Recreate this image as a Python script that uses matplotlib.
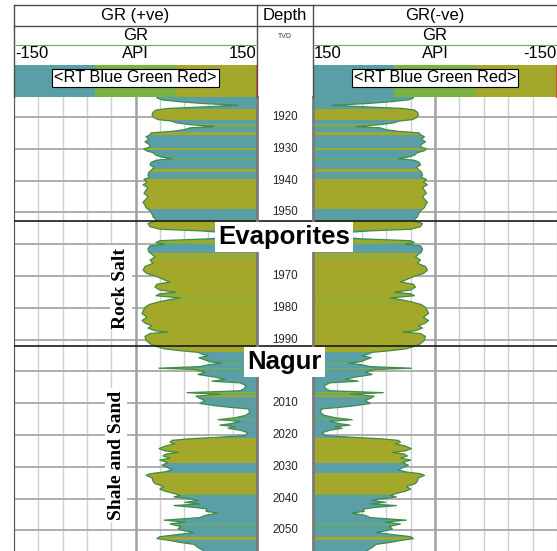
import numpy as np
import matplotlib.pyplot as plt
from matplotlib.transforms import blended_transform_factory

# ---------------- data ----------------
depth = [1913.7, 1914.0, 1914.6, 1915.2, 1915.8, 1916.3, 1916.8, 1917.3, 1917.8, 1918.5,
         1919.3, 1920.2, 1920.8, 1921.3, 1921.8, 1922.4, 1923.0, 1923.4, 1924.0, 1924.5,
         1925.0, 1925.6, 1926.2, 1927.0, 1927.8, 1928.6, 1929.4, 1930.0, 1930.6, 1931.2,
         1932.0, 1932.6, 1933.1, 1933.6, 1934.3, 1935.1, 1935.8, 1936.5, 1937.3, 1938.2,
         1939.0, 1939.6, 1940.5, 1941.3, 1942.2, 1943.0, 1944.0, 1945.0, 1945.8, 1946.8,
         1947.7, 1948.5, 1949.5, 1950.5, 1951.4, 1952.2, 1952.8, 1953.5, 1954.5, 1955.3,
         1955.8, 1956.5, 1957.5, 1958.3, 1958.9, 1959.5, 1960.0, 1960.5, 1961.5, 1962.5,
         1963.2, 1964.0, 1965.0, 1966.0, 1967.0, 1968.2, 1969.2, 1970.2, 1971.3, 1971.9,
         1972.6, 1973.5, 1974.4, 1975.1, 1975.6, 1976.2, 1976.9, 1977.4, 1978.2, 1979.0,
         1979.9, 1981.0, 1981.8, 1983.0, 1984.0, 1985.0, 1985.6, 1986.4, 1987.2, 1987.6,
         1988.1, 1989.0, 1990.2, 1991.3, 1992.0, 1992.9, 1993.5, 1994.0, 1994.6, 1995.1,
         1995.7, 1996.4, 1997.0, 1997.4, 1997.9, 1998.5, 1999.0, 1999.4, 2000.2, 2001.0,
         2001.8, 2002.5, 2003.1, 2003.6, 2004.5, 2005.5, 2006.1, 2006.7, 2007.2, 2007.8,
         2008.5, 2009.2, 2010.1, 2010.8, 2011.3, 2011.8, 2012.8, 2013.8, 2014.6, 2015.2,
         2015.7, 2016.4, 2016.9, 2017.4, 2017.9, 2018.5, 2019.3, 2020.2, 2020.7, 2021.2,
         2021.7, 2022.3, 2022.8, 2023.4, 2024.3, 2025.0, 2025.5, 2026.0, 2026.6, 2027.3,
         2027.9, 2028.7, 2029.5, 2030.3, 2031.0, 2031.6, 2032.2, 2032.7, 2033.5, 2034.5,
         2035.3, 2036.2, 2037.0, 2037.7, 2038.4, 2039.0, 2039.5, 2040.1, 2040.6, 2041.2,
         2041.7, 2042.2, 2042.8, 2043.3, 2044.0, 2044.6, 2045.3, 2046.0, 2046.8, 2047.4,
         2048.0, 2048.8, 2049.5, 2050.1, 2050.7, 2051.4, 2052.0, 2052.6, 2053.2, 2053.8,
         2054.4, 2055.4, 2056.5]
gr = [26.5, 26.5, 32.7, 55.0, 85.8, 126.5, 85.8, 40.0, 25.3, 21.6,
      20.4, 22.8, 27.8, 45.0, 50.0, 67.3, 96.9, 67.3, 59.9, 45.0,
      19.1, 17.9, 13.0, 16.7, 11.7, 16.7, 17.9, 10.5, 13.0, 21.6,
      25.3, 32.7, 45.0, 25.3, 19.1, 17.9, 22.8, 20.4, 16.7, 15.4,
      16.7, 10.5, 14.2, 9.3, 15.4, 13.0, 10.5, 15.4, 13.0, 9.3,
      11.7, 13.0, 17.9, 20.4, 21.6, 25.3, 24.0, 15.4, 17.9, 30.0,
      79.6, 119.0, 122.8, 92.0, 30.0, 25.3, 36.4, 17.9, 15.4, 16.7,
      20.4, 24.0, 17.9, 21.6, 11.7, 9.3, 14.2, 26.5, 36.4, 42.6,
      26.5, 24.0, 30.0, 50.0, 30.0, 25.3, 55.0, 42.6, 27.8, 16.7,
      11.7, 9.3, 8.0, 14.2, 8.0, 13.0, 20.4, 15.4, 24.0, 40.0,
      17.9, 11.7, 13.0, 17.9, 24.0, 35.2, 55.0, 77.2, 82.1, 89.5,
      78.4, 85.8, 92.0, 106.8, 90.7, 79.6, 29.0, 73.5, 85.8, 77.2,
      98.1, 110.5, 94.4, 129.0, 136.4, 134.0, 129.0, 63.6, 104.3, 74.7,
      79.6, 85.8, 79.6, 98.1, 116.7, 138.9, 141.4, 136.4, 122.8, 101.9,
      129.0, 119.0, 104.3, 122.8, 114.2, 129.0, 138.9, 135.2, 104.3, 67.3,
      45.0, 42.6, 48.8, 37.7, 29.0, 36.4, 52.5, 37.7, 34.0, 42.6,
      30.0, 40.0, 32.7, 40.0, 45.0, 36.4, 17.9, 13.0, 20.4, 21.6,
      24.0, 35.2, 30.0, 36.4, 47.5, 55.0, 47.5, 67.3, 77.2, 61.1,
      79.6, 47.5, 73.5, 88.3, 87.0, 101.9, 85.8, 79.6, 35.2, 61.1,
      42.6, 56.2, 52.5, 59.9, 72.2, 50.0, 30.0, 26.5, 42.6, 55.0,
      72.2, 77.2, 84.6]

# colour bands of the filled curve (T = blue, G = green, O = red end of the scale)
band_top = [1913.7, 1917.6, 1921.0, 1922.2, 1922.5, 1922.8, 1923.2, 1924.6, 1925.8, 1929.6,
            1930.5, 1933.0, 1933.3, 1936.2, 1937.2, 1939.6, 1948.8, 1952.7, 1955.5, 1958.7,
            1959.3, 1959.8, 1962.8, 1964.1, 1964.3, 1975.7, 1975.9, 1977.7, 1977.9, 1993.8,
            1997.3, 1997.6, 1998.8, 1999.3, 2006.4, 2007.0, 2007.5, 2008.0, 2015.0, 2015.4,
            2021.0, 2028.8, 2032.0, 2038.6, 2038.9, 2047.9, 2048.2, 2052.0, 2053.0]
band_base = band_top[1:] + [2056.5]
band_kind = ['T', 'O', 'T', 'O', 'T', 'G', 'T', 'O', 'T', 'O',
             'T', 'G', 'T', 'O', 'T', 'O', 'T', 'O', 'T', 'O',
             'G', 'T', 'O', 'G', 'O', 'G', 'O', 'G', 'O', 'T',
             'G', 'T', 'G', 'T', 'G', 'T', 'O', 'T', 'G', 'T',
             'O', 'T', 'O', 'G', 'T', 'G', 'T', 'O', 'T']

formation_names = ['Evaporites', 'Nagur']
formation_tops = [1952.6, 1992.1]
formation_label_depth = [1957.7, 1997.0]
zone_names = ['Rock Salt', 'Shale and Sand']
zone_mid = [1973.8, 2026.3]
zone_x = [0.44, 0.42]
depth_ticks = list(range(1920, 2051, 10))
depth_labels = [1920, 1930, 1940, 1950, 1970, 1980, 1990, 2010, 2020, 2030, 2040, 2050]
gr_min, gr_max = -150, 150
top_depth, base_depth = 1913.7, 2056.5

# ---------------- styling ----------------
colours = {'T': '#5a9fa5', 'G': '#7ab140', 'O': '#a4a82a'}
outline = '#3f8c46'
sans = ['Liberation Sans', 'DejaVu Sans']
serif = ['Liberation Serif', 'DejaVu Serif']

W, H = 557, 551
fig = plt.figure(figsize=(W / 100, H / 100), dpi=100)
fig.patch.set_facecolor('white')


def frac(x0, y0, x1, y1):
    return [x0 / W, 1 - y1 / H, (x1 - x0) / W, (y1 - y0) / H]


def draw_track(ax, reverse):
    ax.set_xlim((gr_max, gr_min) if reverse else (gr_min, gr_max))
    ax.set_ylim(base_depth, top_depth)
    ax.set_xticks(np.arange(gr_min, gr_max + 1, 30))
    ax.set_yticks(depth_ticks)
    ax.tick_params(length=0, labelbottom=False, labelleft=False)
    ax.set_axisbelow(True)
    ax.xaxis.grid(True, color='#cfcfcf', lw=1.0)
    ax.yaxis.grid(True, color='#a8a8a8', lw=1.3)
    ax.axvline(0, color='#a3a3a3', lw=1.8, zorder=0.6)
    for s in ax.spines.values():
        s.set_visible(False)

    shape = ax.fill_betweenx(depth, gr, gr_max, facecolor='none', edgecolor='none')
    clip = shape.get_paths()[0]
    for t, b, k in zip(band_top, band_base, band_kind):
        band = ax.fill_betweenx([t, b], gr_min, gr_max, color=colours[k], lw=0, zorder=1)
        band.set_clip_path(clip, ax.transData)
    ax.plot(gr, depth, color=outline, lw=0.9, zorder=2)
    for ft in formation_tops:
        ax.axhline(ft, color='#1a1a1a', lw=1.2, zorder=3)


axL = fig.add_axes(frac(14, 97, 257, 551))
axR = fig.add_axes(frac(313, 97, 557, 551))
draw_track(axL, False)
draw_track(axR, True)
axL.spines['left'].set_visible(True)
axL.spines['left'].set_color('#555555')

# zone labels
tr = blended_transform_factory(axL.transAxes, axL.transData)
for name, d, xf in zip(zone_names, zone_mid, zone_x):
    axL.text(xf, d, name, transform=tr, rotation=90, ha='center', va='center',
             family=serif, weight='bold', size=14, zorder=4,
             bbox=dict(fc='white', ec='none', pad=1.5))

# depth track
axD = fig.add_axes(frac(257, 97, 313, 551), zorder=5)
axD.set_xlim(0, 1)
axD.set_ylim(base_depth, top_depth)
axD.set_xticks([])
axD.set_yticks([])
for side in ('top', 'bottom'):
    axD.spines[side].set_visible(False)
for side in ('left', 'right'):
    axD.spines[side].set_color('#7a7a7a')
    axD.spines[side].set_linewidth(2.0)
for d in depth_labels:
    axD.text(0.5, d, str(d), ha='center', va='center', size=8.3,
             color='#262626', family=sans)
for ft in formation_tops:
    axD.axhline(ft, color='#1a1a1a', lw=1.2)
for name, d in zip(formation_names, formation_label_depth):
    axD.text(0.49, d, name, ha='center', va='center', family=sans, weight='bold',
             size=18.5, color='black', clip_on=False, zorder=6,
             bbox=dict(boxstyle='square,pad=0.12', fc='white', ec='none'))

# header
axH = fig.add_axes([0, 0, 1, 1], zorder=10)
axH.set_xlim(0, W)
axH.set_ylim(H, 0)
axH.axis('off')
axH.patch.set_alpha(0)

line_c = '#4d4d4d'
axH.plot([14, W], [5, 5], color=line_c, lw=1)
axH.plot([14, W], [25.5, 25.5], color=line_c, lw=1)
axH.plot([14, 14], [5, 97], color=line_c, lw=1)
for xs in (257, 313):
    axH.plot([xs, xs], [5, 97], color=line_c, lw=1)

tracks = [(14, 257, 'GR (+ve)', '-150', '150'), (313, 557, 'GR(-ve)', '150', '-150')]
for x0, x1, title, left_lab, right_lab in tracks:
    xc = (x0 + x1) / 2
    axH.text(xc, 15.5, title, ha='center', va='center', size=12, family=sans)
    axH.text(xc, 35.5, 'GR', ha='center', va='center', size=12, family=sans)
    axH.plot([x0, x1], [44.5, 44.5], color='#6aa85a', lw=0.8)
    axH.text(xc, 54, 'API', ha='center', va='center', size=12, family=sans)
    axH.text(x0 + 1, 54, left_lab, ha='left', va='center', size=12, family=sans)
    axH.text(x1 - 1, 54, right_lab, ha='right', va='center', size=12, family=sans)
    third = (x1 - x0) / 3
    for i, k in enumerate(['T', 'G', 'O']):
        axH.fill_between([x0 + i * third, x0 + (i + 1) * third], 65, 97,
                         color=colours[k], lw=0)
    axH.plot([x1 - 0.8, x1 - 0.8], [65, 97], color='#c8504a', lw=0.8)
    axH.text(xc, 78, '<RT Blue Green Red>', ha='center', va='center', size=11.8,
             family=sans,
             bbox=dict(boxstyle='square,pad=0.12', fc='white', ec='black', lw=0.8))

axH.text(285, 15.5, 'Depth', ha='center', va='center', size=12, family=sans)
axH.text(285, 36, 'TVD', ha='center', va='center', size=5, family=sans, color='#333333')

fig.savefig('out.png', dpi=100)
